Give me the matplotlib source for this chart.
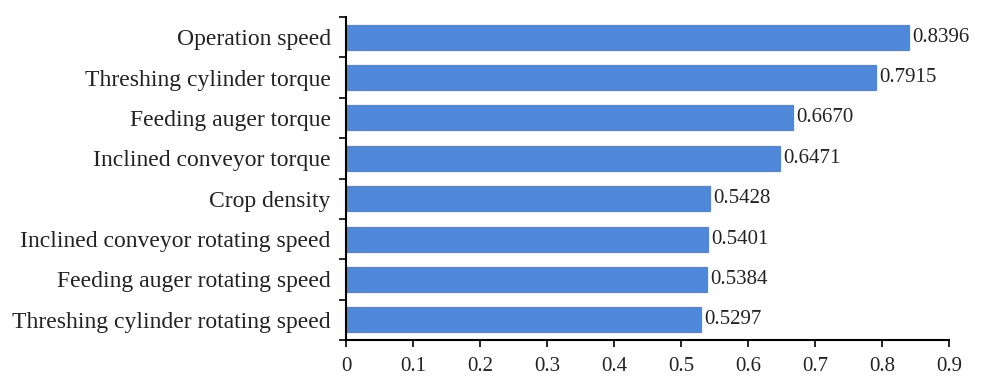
import matplotlib
matplotlib.use("Agg")
import matplotlib.pyplot as plt
import numpy as np

categories = [
    "Operation speed",
    "Threshing cylinder torque",
    "Feeding auger torque",
    "Inclined conveyor torque",
    "Crop density",
    "Inclined conveyor rotating speed",
    "Feeding auger rotating speed",
    "Threshing cylinder rotating speed",
]
values = [0.8396, 0.7915, 0.6670, 0.6471, 0.5428, 0.5401, 0.5384, 0.5297]
x_ticks = [0, 0.1, 0.2, 0.3, 0.4, 0.5, 0.6, 0.7, 0.8, 0.9]
x_tick_labels = ["0", "0.1", "0.2", "0.3", "0.4", "0.5", "0.6", "0.7", "0.8", "0.9"]

plt.rcParams["font.family"] = ["Liberation Serif", "DejaVu Serif"]

fig = plt.figure(figsize=(9.81, 3.76), dpi=100)
ax = fig.add_axes([0.3527, 0.0957, 0.6147, 0.8591])

y = np.arange(len(categories))
ax.barh(y, values, height=0.62, color="#4F88D8", edgecolor="#5F86C0", linewidth=0.9)

for yi, v in zip(y, values):
    ax.text(v + 0.005, yi, f"{v:.4f}", va="center", ha="left", fontsize=15, color="#222222")

ax.set_xlim(0, 0.9)
ax.set_ylim(len(categories) - 0.5, -0.5)
ax.set_xticks(x_ticks)
ax.set_xticklabels(x_tick_labels, fontsize=15, color="#222222")
ax.set_yticks(y)
ax.set_yticklabels(categories, fontsize=17, color="#222222")
ax.tick_params(axis="y", which="major", length=0, pad=11)
ax.set_yticks(np.arange(-0.5, len(categories), 1.0), minor=True)
ax.tick_params(axis="y", which="minor", length=5, width=1.2, color="black")
ax.tick_params(axis="x", length=5, width=1.2, color="black", pad=7)

for side in ["top", "right"]:
    ax.spines[side].set_visible(False)
for side in ["left", "bottom"]:
    ax.spines[side].set_linewidth(1.5)
    ax.spines[side].set_color("black")

fig.savefig("out.png", dpi=100, facecolor="white")
